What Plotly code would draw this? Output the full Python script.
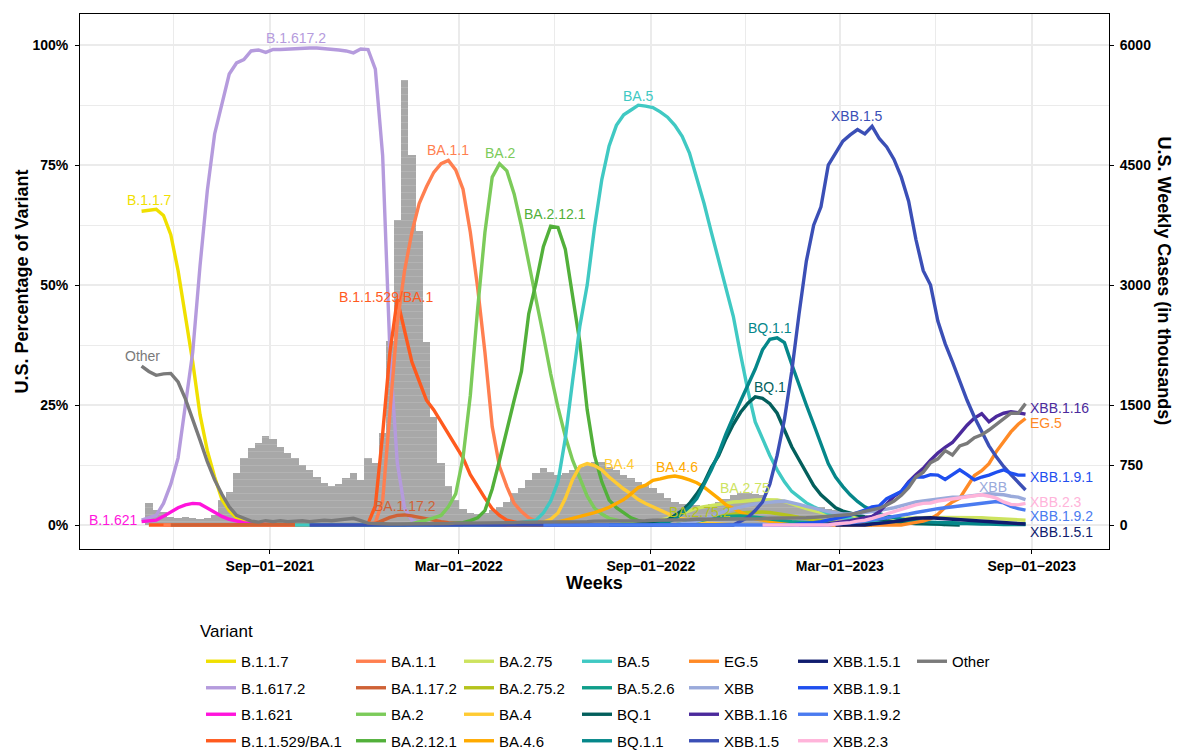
import pandas as pd
import plotly.graph_objects as go

# ---------------- data: weekly share of each variant (%) ----------------
# each series: first week (Saturday) and its weekly values
b117_start = "2021-05-01"
b117 = [65.4, 65.6, 65.8, 64.5, 60.5, 53, 44, 34, 23, 15.5, 10, 5.3, 3.0, 1.5, 0.8, 0.5,
        0.3, 0.2, 0.1, 0.1, 0, 0, 0, 0, 0, 0, 0, 0, 0, 0]
b16172_start = "2021-05-01"
b16172 = [1, 1.5, 2, 4.5, 8.5, 14, 24.5, 36, 54, 69.7, 81.5, 88, 94, 96.3, 97, 98.8, 99, 98.5,
          99.1, 99.1, 99.2, 99.3, 99.4, 99.4, 99.4, 99.3, 99.1, 99, 98.8, 98.4, 99.2, 99.1, 95,
          77, 36, 13, 3.5, 1, 0.3, 0.1, 0, 0, 0, 0, 0]
b1621_start = "2021-05-01"
b1621 = [0.7, 0.8, 1.0, 1.8, 2.8, 3.6, 4.2, 4.5, 4.4, 3.6, 2.6, 1.8, 1.2, 0.8, 0.5, 0.3, 0.2,
         0.1, 0, 0, 0, 0]
b11529_start = "2021-05-08"
b11529 = [0] * 30 + [0.3, 4, 19, 36, 47, 40.5, 34, 30, 26, 24, 21.5, 19, 16.5, 14, 10.5, 8, 5.6,
                     3.4, 2.0, 1.0, 0.6, 0.3, 0.2, 0.1, 0, 0]
ba11_start = "2021-05-22"
ba11 = [0] * 28 + [0.3, 0.5, 5, 23, 42, 53, 61, 67, 70.5, 73.5, 75.3, 76, 74, 70, 61, 49.5, 36,
                   20.5, 12.2, 8, 4.5, 2.8, 1.5, 0.8, 0.4, 0.2, 0]
ba1172_start = "2021-05-29"
ba1172 = [0] * 27 + [0.1, 0.3, 1.0, 1.6, 2.0, 2.1, 1.9, 1.6, 1.2, 0.9, 0.7, 0.5, 0.4, 0.3, 0.2,
                     0.1] + [0] * 14
ba2_start = "2021-11-27"
ba2 = [0] * 7 + [0.3, 0.6, 1.0, 1.5, 2.0, 3.8, 6.5, 14, 27, 45, 61, 72.5, 75.3, 73.8, 69, 62.3,
                 55, 47, 39.5, 31.5, 24.5, 18.5, 13.5, 9.5, 6, 3.5, 2.3, 1.4, 1.0, 0.7, 0.4, 0.2,
                 0.1, 0]
ba2121_start = "2022-02-05"
ba2121 = [0, 0.1, 0.2, 0.3, 0.5, 0.9, 1.5, 3.0, 7.5, 13.5, 20, 26, 32, 44, 50.5, 58, 62.3, 62,
          57.5, 48, 38, 24, 14.5, 9, 5.2, 3.6, 2.5, 1.5, 0.9, 0.5, 0.3, 0.2, 0.1, 0]
ba275_start = "2022-06-25"
ba275 = [0] * 8 + [0.2, 0.4, 0.6, 1.0, 1.4, 1.8, 2.4, 3.0, 3.5, 3.8, 4.1, 4.3, 4.5, 4.8, 4.9,
                   5.1, 5.2, 5.3, 5.3, 5.2, 4.9, 4.4, 3.8, 3.4, 3.0, 2.6, 2.3, 2.0, 1.8, 1.7,
                   1.6, 1.5, 1.5, 1.4, 1.4, 1.5, 1.4, 1.4, 1.5, 1.5, 1.6, 1.5, 1.6, 1.6, 1.5,
                   1.5, 1.6, 1.5, 1.4, 1.3, 1.2, 1.1, 1.0, 1.0]
ba2752_start = "2022-08-20"
ba2752 = [0] * 6 + [0.3, 0.5, 0.7, 1.1, 1.5, 1.8, 2.0, 2.3, 2.5, 2.6, 2.7, 2.7, 2.6, 2.4, 2.2,
                    1.9, 1.6, 1.3, 1.1, 0.9, 0.7, 0.5, 0.4, 0.3, 0.2, 0.1, 0]
ba4_start = "2022-04-16"
ba4 = [0, 0, 0, 0, 0.3, 0.6, 1.2, 2.5, 5.5, 9.5, 12.2, 12.8, 12.4, 11.5, 10.0, 8.7, 7.5, 6.5,
       5.3, 4.5, 3.8, 3.0, 2.3, 1.7, 1.3, 1.0, 0.7, 0.5, 0.3, 0.2, 0.1, 0]
ba46_start = "2022-04-16"
ba46 = [0] * 6 + [0.3, 0.6, 1.0, 1.4, 1.8, 2.1, 2.6, 3.1, 3.7, 4.5, 5.3, 6.5, 7.8, 8.3, 9.3,
                  9.6, 10.0, 10.2, 9.9, 9.4, 8.8, 7.9, 6.8, 5.5, 4.2, 3.4, 2.6, 1.9, 1.3, 1.0,
                  0.7, 0.5, 0.3, 0.2, 0.1, 0]
ba5_start = "2021-09-25"
ba5 = [0] * 29 + [0.2, 0.3, 0.5, 0.8, 1.0, 2.5, 5, 9, 18, 30, 41.5, 50, 62, 72, 79, 83.3, 85.5,
                  86.5, 87.5, 87.3, 87.0, 86.1, 85, 83.3, 81, 77.5, 72.5, 67, 61, 55, 49, 43.5,
                  35.5, 28, 21.5, 18, 14.5, 11.5, 9, 7, 5.9, 4.6, 3.8, 3.0, 2.4, 2.0, 1.5, 1.3,
                  1.0, 0.9, 0.8, 0.7, 0.6, 0.5, 0.4, 0.4, 0.3, 0.3, 0.2, 0.2, 0.1]
ba526_start = "2022-09-03"
ba526 = [0] * 4 + [0.3, 0.5, 0.8, 1.1, 1.4, 1.6, 1.8, 1.9, 1.9, 1.8, 1.6, 1.4, 1.2, 1.0, 0.8,
                   0.7, 0.6, 0.5, 0.5, 0.4, 0.4, 0.3, 0.3, 0.3, 0.3, 0.3, 0.3, 0.4, 0.4, 0.4,
                   0.5, 0.5, 0.5, 0.6, 0.6, 0.5, 0.5, 0.5, 0.4, 0.4, 0.4, 0.3, 0.3, 0.3, 0.2,
                   0.2, 0.2, 0.2]
bq1_start = "2022-07-23"
bq1 = [0] * 4 + [0.2, 0.3, 0.4, 0.7, 1.0, 2.0, 3.0, 4.5, 6.5, 8.8, 12, 14.5, 18, 21, 23.5, 25.4,
                 26.7, 26.4, 25.3, 23.3, 20, 16.3, 13.6, 10.8, 8.2, 6.3, 4.9, 3.6, 2.9, 2.5, 2.0,
                 1.7, 1.4, 1.1, 0.9, 0.7, 0.5, 0.4, 0.3, 0.3, 0.2, 0.2, 0.1, 0.1, 0]
bq11_start = "2022-07-23"
bq11 = [0] * 7 + [0.3, 0.6, 1.3, 2.4, 3.8, 5.5, 8.5, 11.5, 15, 19, 22.5, 25.8, 29.5, 32.5, 36.5,
                  38.7, 39, 38, 33.5, 29, 25, 21, 17, 12.8, 10, 8, 6.3, 4.9, 3.8, 3.0, 2.4, 1.9,
                  1.5, 1.2, 1.0, 0.8, 0.7, 0.6, 0.5, 0.4, 0.4, 0.3, 0.3, 0.2, 0.2, 0.2, 0.1, 0.1,
                  0.1, 0.1, 0.1]
eg5_start = "2023-01-21"
eg5 = [0] * 15 + [0.3, 0.5, 0.8, 1.3, 2.2, 3.7, 4.8, 5.6, 7.8, 10.3, 11.3, 12.8, 15.3, 17.3,
                  19.4, 21, 22.2]
xbb_start = "2022-09-03"
xbb = [0] * 4 + [0.3, 0.5, 0.8, 1.3, 1.8, 2.4, 3.0, 3.4, 3.8, 4.1, 4.4, 4.6, 4.8, 4.9, 5.0, 4.7,
                 4.3, 3.9, 3.5, 3.1, 2.8, 2.5, 2.3, 2.3, 2.4, 2.6, 2.8, 3.0, 3.3, 3.6, 4.0, 4.4,
                 4.8, 5.0, 5.2, 5.5, 5.7, 5.8, 5.8, 6.0, 6.2, 6.4, 6.5, 6.4, 6.3, 6.0, 5.8, 5.3]
xbb116_start = "2023-01-21"
xbb116 = [0] * 4 + [0.2, 0.4, 0.6, 0.9, 1.2, 1.5, 1.8, 2.8, 4.5, 6.0, 7.0, 9.0, 10.5, 11.8, 13.5,
                    15, 16.2, 17.2, 19, 20.8, 22.3, 23.2, 21.5, 22.6, 23.3, 23.6, 23.4, 23.1]
xbb15_start = "2021-10-09"
xbb15 = [0] * 59 + [0.8, 1.6, 3.0, 4.8, 8.5, 14.5, 22, 32, 44, 55, 62.5, 66.3, 75, 77.5, 80,
                    81.3, 82.4, 81.5, 83.1, 80.5, 78.8, 76.2, 72.5, 67.5, 59.5, 53, 50, 42.5,
                    37.8, 34, 30, 26, 22.5, 19.5, 16.5, 14.2, 12.2, 10.5, 9.0, 7.3]
xbb151_start = "2023-02-25"
xbb151 = [0] * 5 + [0.2, 0.3, 0.5, 0.7, 1.0, 1.2, 1.4, 1.5, 1.5, 1.4, 1.3, 1.3, 1.2, 1.1, 1.0,
                    0.9, 0.8, 0.6, 0.5, 0.4, 0.3, 0.2]
xbb191_start = "2022-12-17"
xbb191 = [0] * 5 + [0.2, 0.3, 0.5, 0.7, 1.0, 1.3, 1.7, 2.0, 2.6, 3.1, 3.8, 4.0, 5.5, 6.2, 7.0,
                    8.8, 10, 10.0, 10.5, 10.4, 9.5, 10.5, 11.5, 10.5, 9.4, 10, 10.4, 11, 11.5,
                    10.8, 10.4, 10.4]
xbb192_start = "2022-05-21"
xbb192 = [0] * 40 + [0.2, 0.3, 0.5, 0.6, 0.8, 1.0, 1.3, 1.5, 1.8, 2.0, 2.3, 2.6, 2.9, 3.2, 3.4,
                     3.6, 3.8, 4.0, 4.2, 4.4, 4.5, 4.7, 4.9, 4.6, 3.9, 3.4, 3.1]
xbb23_start = "2022-12-17"
xbb23 = [0] * 10 + [0.2, 0.3, 0.5, 0.8, 1.0, 1.4, 1.8, 2.3, 2.8, 3.3, 3.8, 4.2, 4.5, 4.6, 5.0,
                    5.2, 5.4, 5.7, 5.9, 6.1, 6.3, 6.0, 5.6, 4.8, 4.3, 4.2, 4.5]
other_start = "2021-05-01"
other = [33.1, 32.0, 31.2, 31.5, 31.6, 29.8, 26.3, 22.2, 17.7, 13.2, 9.4, 6.4, 3.8, 2.0, 1.4,
         0.8, 0.6, 0.9, 0.7, 0.9, 0.7, 0.8, 0.9, 0.7, 0.9, 1.0, 0.9, 1.1, 1.3, 1.4, 0.9, 0.4,
         0.3, 0.2, 0.2, 0.2, 0.2, 0.2, 0.2, 0.3, 0.3, 0.3, 0.3, 0.4, 0.4, 0.4,
         0.4, 0.5, 0.5, 0.5, 0.5, 0.5, 0.6, 0.6, 0.6, 0.6, 0.6, 0.7, 0.7, 0.7, 0.7, 0.7, 0.8,
         0.8, 0.8, 0.8,
         0.8, 0.9, 0.9, 0.9, 1.0, 1.0, 1.0, 1.1, 1.1, 1.1, 1.2, 1.2, 1.2, 1.2, 1.3, 1.3, 1.3,
         1.3, 1.3, 1.3, 1.4, 1.4, 1.4, 1.4, 1.5, 1.5, 1.6, 1.7, 1.8,
         1.9, 2.0, 2.2, 2.5, 2.8, 3.1, 3.5, 4.2, 5.0, 6.2, 7.8, 10, 11, 13, 13.8, 15.5, 14.6,
         16.5, 17, 18.2, 18.8, 19.8, 21, 22, 23.3, 23.3, 25.3]

# weekly U.S. cases (thousands)
cases_start = "2021-05-08"
cases = [279, 185, 167, 96, 83, 96, 83, 71, 83, 125,
         312, 416, 646, 833, 958, 1021, 1112, 1071, 979, 904,
         833, 750, 687, 604, 529, 487, 512, 583, 646, 562,
         833, 771, 1150, 2300, 3812, 5562, 4625, 3675, 2291, 1354,
         779, 487, 312, 196, 146, 133, 146, 187, 229, 291,
         396, 458, 562, 646, 708, 666, 625, 646, 687, 729,
         771, 791, 783, 729, 687, 625, 583, 541, 500, 458,
         396, 333, 290, 260, 250, 250, 240, 260, 290, 330,
         375, 396, 400, 390, 370, 330, 300, 280, 260, 250,
         240, 230, 220, 200, 190, 175, 160, 150]

variant_names = ["B.1.1.7", "B.1.617.2", "B.1.621", "B.1.1.529/BA.1",
                 "BA.1.1", "BA.1.17.2", "BA.2", "BA.2.12.1",
                 "BA.2.75", "BA.2.75.2", "BA.4", "BA.4.6",
                 "BA.5", "BA.5.2.6", "BQ.1", "BQ.1.1",
                 "EG.5", "XBB", "XBB.1.16", "XBB.1.5",
                 "XBB.1.5.1", "XBB.1.9.1", "XBB.1.9.2", "XBB.2.3",
                 "Other"]
variant_starts = [b117_start, b16172_start, b1621_start, b11529_start,
                  ba11_start, ba1172_start, ba2_start, ba2121_start,
                  ba275_start, ba2752_start, ba4_start, ba46_start,
                  ba5_start, ba526_start, bq1_start, bq11_start,
                  eg5_start, xbb_start, xbb116_start, xbb15_start,
                  xbb151_start, xbb191_start, xbb192_start, xbb23_start,
                  other_start]
variant_values = [b117, b16172, b1621, b11529,
                  ba11, ba1172, ba2, ba2121,
                  ba275, ba2752, ba4, ba46,
                  ba5, ba526, bq1, bq11,
                  eg5, xbb, xbb116, xbb15,
                  xbb151, xbb191, xbb192, xbb23,
                  other]
variant_colors = ["#F0E000", "#B59BDD", "#FF14DC", "#FF5A1E",
                  "#FF7F50", "#CF6236", "#7CCB5A", "#52B03A",
                  "#CDE35F", "#B5C31C", "#FFCB33", "#FFAA00",
                  "#40C9C3", "#0F9E8A", "#035F5C", "#05878A",
                  "#FF8A26", "#9AAADB", "#4B2A9C", "#3B4FB6",
                  "#101C6E", "#1F4FEF", "#4A7BF0", "#FFB4DA",
                  "#7A7A7A"]

# direct labels: (variant, date, %)
label_names = ["B.1.1.7", "B.1.617.2", "B.1.621", "Other", "B.1.1.529/BA.1", "BA.1.1",
               "BA.1.17.2", "BA.2", "BA.2.12.1", "BA.5", "BA.4", "BA.4.6", "BA.2.75",
               "BA.2.75.2", "BQ.1.1", "BQ.1", "XBB.1.5", "XBB"]
label_dates = ["2021-05-09", "2021-09-26", "2021-04-04", "2021-05-02", "2021-12-21",
               "2022-02-19", "2022-01-08", "2022-04-10", "2022-06-01", "2022-08-20",
               "2022-08-02", "2022-09-26", "2022-11-30", "2022-10-18", "2022-12-24",
               "2022-12-24", "2023-03-18", "2023-07-26"]
label_y = [67.7, 101.5, 1.0, 35.2, 47.5, 78.1, 4.0, 77.5, 64.8, 89.4, 12.7, 12.1, 7.7, 2.7,
           41.0, 28.75, 85.2, 7.9]
end_label_names = ["XBB.1.16", "EG.5", "XBB.1.9.1", "XBB.2.3", "XBB.1.9.2", "XBB.1.5.1"]
end_label_y = [24.4, 21.3, 10.0, 4.7, 1.8, -1.5]
end_label_date = "2023-08-28"

x_tick_dates = ["2021-09-01", "2022-03-01", "2022-09-01", "2023-03-01", "2023-09-01"]
x_tick_text = ["Sep\u221201\u22122021", "Mar\u221201\u22122022", "Sep\u221201\u22122022",
               "Mar\u221201\u22122023", "Sep\u221201\u22122023"]
x_minor_dates = ["2021-06-01", "2021-12-01", "2022-06-01", "2022-12-01", "2023-06-01"]
pct_ticks = [0, 25, 50, 75, 100]
pct_minor = [12.5, 37.5, 62.5, 87.5]
case_ticks = [0, 750, 1500, 3000, 4500, 6000]

FONT = "Liberation Sans, Arial, sans-serif"
color_of = dict(zip(variant_names, variant_colors))

fig = go.Figure()

# bars: weekly cases on the base axis (right side)
fig.add_trace(go.Bar(
    x=pd.date_range(cases_start, periods=len(cases), freq="7D"), y=cases,
    width=7 * 86400000,
    marker=dict(color="#A8A8A8", line=dict(width=0),
                pattern=dict(shape="-", fgcolor="#BEBEBE", size=7, solidity=0.14,
                             fillmode="overlay")),
    showlegend=False, yaxis="y", hoverinfo="skip"))

# variant lines on the overlaying percentage axis (left side)
for i, (name, start, vals, col) in enumerate(zip(variant_names, variant_starts,
                                                  variant_values, variant_colors)):
    leg = "legend" if i // 4 == 0 else "legend%d" % (i // 4 + 1)
    fig.add_trace(go.Scatter(
        x=pd.date_range(start, periods=len(vals), freq="7D"), y=vals,
        mode="lines", name=name, line=dict(color=col, width=3.4),
        yaxis="y2", legend=leg, legendgroup=name))

annotations = []
for n, d, yv in zip(label_names, label_dates, label_y):
    annotations.append(dict(x=d, y=yv, xref="x", yref="y2", text=n, showarrow=False,
                            xanchor="center", yanchor="middle",
                            font=dict(size=14, color=color_of[n], family=FONT)))
for n, yv in zip(end_label_names, end_label_y):
    annotations.append(dict(x=end_label_date, y=yv, xref="x", yref="y2", text=n,
                            showarrow=False, xanchor="left", yanchor="middle",
                            font=dict(size=14, color=color_of[n], family=FONT)))

# axis titles and legend title
annotations += [
    dict(text="U.S. Percentage of Variant", xref="paper", yref="paper", x=-0.0564, y=0.5,
         xanchor="center", yanchor="middle",
         textangle=-90, showarrow=False, font=dict(size=18, weight="bold", family=FONT)),
    dict(text="U.S. Weekly Cases (in thousands)", xref="paper", yref="paper", x=1.0544,
         y=0.5, xanchor="center", yanchor="middle",
         textangle=90, showarrow=False, font=dict(size=18, weight="bold", family=FONT)),
    dict(text="Weeks", xref="paper", yref="paper", x=0.5, y=-0.0636, showarrow=False,
         xanchor="center", yanchor="middle",
         font=dict(size=18, weight="bold", family=FONT)),
    dict(text="Variant", xref="paper", yref="paper", x=0.1147, y=-0.155, xanchor="left",
         yanchor="middle", showarrow=False, font=dict(size=17, family=FONT)),
]

# seven legend columns (placed in figure coordinates vertically)
text_starts_px = [242, 392, 500, 618, 725, 834, 953]
legend_layout = {}
for k, px in enumerate(text_starts_px):
    key = "legend" if k == 0 else "legend%d" % (k + 1)
    legend_layout[key] = dict(
        x=(px - 41 - 80) / 1029, xref="paper", y=(754 - 645) / 754, yref="container",
        xanchor="left", yanchor="top",
        orientation="v", bgcolor="rgba(0,0,0,0)", tracegroupgap=4,
        font=dict(size=15, family=FONT, color="black"), itemclick=False)

tick_font = dict(size=14, family=FONT, color="black", weight="bold")
fig.update_layout(
    width=1179, height=754,
    margin=dict(l=80, r=70, t=14, b=205),
    plot_bgcolor="white", paper_bgcolor="white",
    font=dict(family=FONT, color="black"),
    bargap=0,
    xaxis=dict(type="date", range=["2021-03-03", "2023-11-14"],
               tickvals=x_tick_dates, ticktext=x_tick_text,
               showgrid=True, gridcolor="#EBEBEB", gridwidth=1.6,
               minor=dict(tickvals=x_minor_dates, showgrid=True, gridcolor="#EBEBEB",
                          gridwidth=0.8, ticks=""),
               showline=True, linecolor="black", linewidth=1, mirror=True,
               ticks="outside", ticklen=4, tickcolor="black", tickfont=tick_font,
               zeroline=False),
    yaxis=dict(range=[-300, 6390], side="right", tickvals=case_ticks,
               showgrid=False, zeroline=False, showline=False,
               ticks="outside", ticklen=4, tickcolor="black", tickfont=tick_font,
               ticklabelstandoff=3),
    yaxis2=dict(overlaying="y", side="left", range=[-5, 106.5],
                tickvals=pct_ticks, ticktext=["%d%%" % v for v in pct_ticks],
                showgrid=True, gridcolor="#EBEBEB", gridwidth=1.6,
                minor=dict(tickvals=pct_minor, showgrid=True, gridcolor="#EBEBEB",
                           gridwidth=0.8, ticks=""),
                showline=True, linecolor="black", linewidth=1, mirror=True,
                zeroline=False, ticks="outside", ticklen=4, tickcolor="black",
                tickfont=tick_font, ticklabelstandoff=4),
    annotations=annotations,
    **legend_layout,
)

fig.write_html("out.html")
